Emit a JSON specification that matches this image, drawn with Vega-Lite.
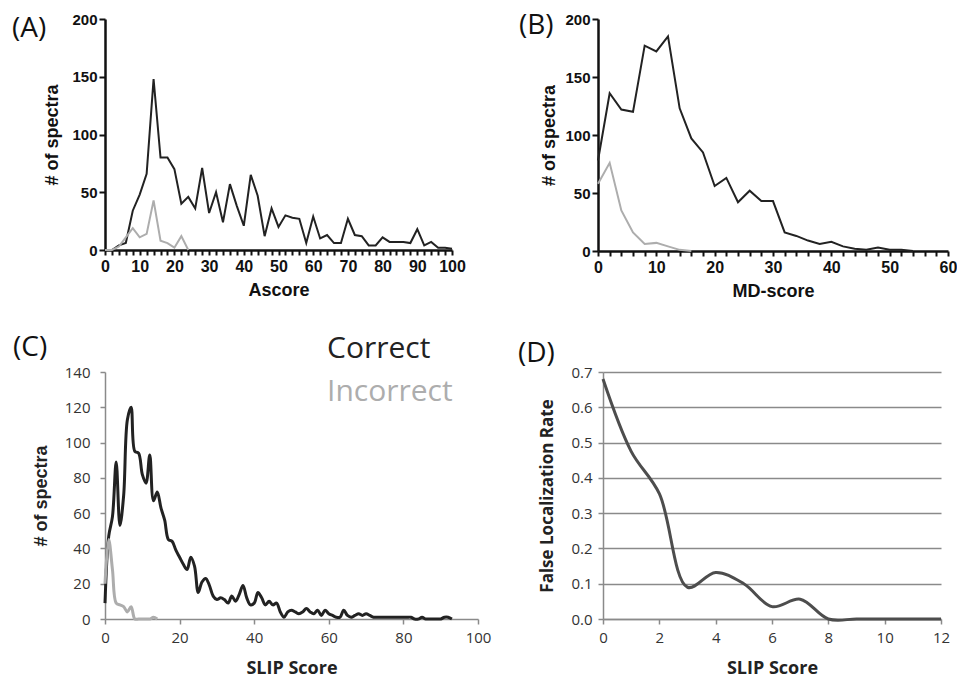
{
  "$schema": "https://vega.github.io/schema/vega-lite/v6.json",
  "padding": {"left": 12, "top": 12, "right": 0, "bottom": 0},
  "background": "white",
  "config": {"view": {"stroke": null}, "axis": {"labelFlush": false}},
  "datasets": {
    "ascore": [
      {"score":0,"count":0,"series":"Correct"},{"score":2,"count":0,"series":"Correct"},{"score":4,"count":4,"series":"Correct"},{"score":6,"count":6,"series":"Correct"},{"score":8,"count":34,"series":"Correct"},{"score":10,"count":48,"series":"Correct"},{"score":12,"count":66,"series":"Correct"},{"score":14,"count":148,"series":"Correct"},{"score":16,"count":80,"series":"Correct"},{"score":18,"count":80,"series":"Correct"},{"score":20,"count":70,"series":"Correct"},{"score":22,"count":40,"series":"Correct"},{"score":24,"count":46,"series":"Correct"},{"score":26,"count":36,"series":"Correct"},{"score":28,"count":71,"series":"Correct"},{"score":30,"count":32,"series":"Correct"},{"score":32,"count":50,"series":"Correct"},{"score":34,"count":24,"series":"Correct"},{"score":36,"count":57,"series":"Correct"},{"score":38,"count":38,"series":"Correct"},{"score":40,"count":21,"series":"Correct"},{"score":42,"count":65,"series":"Correct"},{"score":44,"count":47,"series":"Correct"},{"score":46,"count":12,"series":"Correct"},{"score":48,"count":36,"series":"Correct"},{"score":50,"count":20,"series":"Correct"},{"score":52,"count":30,"series":"Correct"},{"score":54,"count":28,"series":"Correct"},{"score":56,"count":27,"series":"Correct"},{"score":58,"count":6,"series":"Correct"},{"score":60,"count":29,"series":"Correct"},{"score":62,"count":10,"series":"Correct"},{"score":64,"count":13,"series":"Correct"},{"score":66,"count":6,"series":"Correct"},{"score":68,"count":6,"series":"Correct"},{"score":70,"count":27,"series":"Correct"},{"score":72,"count":13,"series":"Correct"},{"score":74,"count":12,"series":"Correct"},{"score":76,"count":4,"series":"Correct"},{"score":78,"count":4,"series":"Correct"},{"score":80,"count":11,"series":"Correct"},{"score":82,"count":7,"series":"Correct"},{"score":84,"count":7,"series":"Correct"},{"score":86,"count":7,"series":"Correct"},{"score":88,"count":6,"series":"Correct"},{"score":90,"count":18,"series":"Correct"},{"score":92,"count":4,"series":"Correct"},{"score":94,"count":7,"series":"Correct"},{"score":96,"count":2,"series":"Correct"},{"score":98,"count":2,"series":"Correct"},{"score":100,"count":1,"series":"Correct"},
      {"score":0,"count":0,"series":"Incorrect"},{"score":2,"count":0,"series":"Incorrect"},{"score":4,"count":3,"series":"Incorrect"},{"score":6,"count":11,"series":"Incorrect"},{"score":8,"count":19,"series":"Incorrect"},{"score":10,"count":11,"series":"Incorrect"},{"score":12,"count":14,"series":"Incorrect"},{"score":14,"count":43,"series":"Incorrect"},{"score":16,"count":8,"series":"Incorrect"},{"score":18,"count":6,"series":"Incorrect"},{"score":20,"count":2,"series":"Incorrect"},{"score":22,"count":12,"series":"Incorrect"},{"score":24,"count":0,"series":"Incorrect"}
    ],
    "mdscore": [
      {"score":0,"count":78,"series":"Correct"},{"score":2,"count":136,"series":"Correct"},{"score":4,"count":122,"series":"Correct"},{"score":6,"count":120,"series":"Correct"},{"score":8,"count":177,"series":"Correct"},{"score":10,"count":172,"series":"Correct"},{"score":12,"count":185,"series":"Correct"},{"score":14,"count":123,"series":"Correct"},{"score":16,"count":97,"series":"Correct"},{"score":18,"count":85,"series":"Correct"},{"score":20,"count":56,"series":"Correct"},{"score":22,"count":63,"series":"Correct"},{"score":24,"count":42,"series":"Correct"},{"score":26,"count":52,"series":"Correct"},{"score":28,"count":43,"series":"Correct"},{"score":30,"count":43,"series":"Correct"},{"score":32,"count":16,"series":"Correct"},{"score":34,"count":13,"series":"Correct"},{"score":36,"count":9,"series":"Correct"},{"score":38,"count":6,"series":"Correct"},{"score":40,"count":8,"series":"Correct"},{"score":42,"count":4,"series":"Correct"},{"score":44,"count":2,"series":"Correct"},{"score":46,"count":1,"series":"Correct"},{"score":48,"count":3,"series":"Correct"},{"score":50,"count":1,"series":"Correct"},{"score":52,"count":1,"series":"Correct"},{"score":54,"count":0,"series":"Correct"},
      {"score":0,"count":58,"series":"Incorrect"},{"score":2,"count":76,"series":"Incorrect"},{"score":4,"count":35,"series":"Incorrect"},{"score":6,"count":16,"series":"Incorrect"},{"score":8,"count":6,"series":"Incorrect"},{"score":10,"count":7,"series":"Incorrect"},{"score":12,"count":4,"series":"Incorrect"},{"score":14,"count":1,"series":"Incorrect"},{"score":16,"count":0,"series":"Incorrect"}
    ],
    "slip": [
      {"score":0,"count":9,"series":"Correct"},{"score":1,"count":47,"series":"Correct"},{"score":2,"count":58,"series":"Correct"},{"score":3,"count":89,"series":"Correct"},{"score":4,"count":53,"series":"Correct"},{"score":5,"count":70,"series":"Correct"},{"score":6,"count":113,"series":"Correct"},{"score":7,"count":120,"series":"Correct"},{"score":8,"count":95,"series":"Correct"},{"score":9,"count":94,"series":"Correct"},{"score":10,"count":82,"series":"Correct"},{"score":11,"count":77,"series":"Correct"},{"score":12,"count":93,"series":"Correct"},{"score":13,"count":67,"series":"Correct"},{"score":14,"count":72,"series":"Correct"},{"score":15,"count":63,"series":"Correct"},{"score":16,"count":56,"series":"Correct"},{"score":17,"count":45,"series":"Correct"},{"score":18,"count":44,"series":"Correct"},{"score":19,"count":39,"series":"Correct"},{"score":20,"count":35,"series":"Correct"},{"score":21,"count":31,"series":"Correct"},{"score":22,"count":28,"series":"Correct"},{"score":23,"count":35,"series":"Correct"},{"score":24,"count":30,"series":"Correct"},{"score":25,"count":15,"series":"Correct"},{"score":26,"count":21,"series":"Correct"},{"score":27,"count":23,"series":"Correct"},{"score":28,"count":19,"series":"Correct"},{"score":29,"count":13,"series":"Correct"},{"score":30,"count":11,"series":"Correct"},{"score":31,"count":12,"series":"Correct"},{"score":32,"count":11,"series":"Correct"},{"score":33,"count":9,"series":"Correct"},{"score":34,"count":13,"series":"Correct"},{"score":35,"count":10,"series":"Correct"},{"score":36,"count":14,"series":"Correct"},{"score":37,"count":19,"series":"Correct"},{"score":38,"count":12,"series":"Correct"},{"score":39,"count":8,"series":"Correct"},{"score":40,"count":9,"series":"Correct"},{"score":41,"count":15,"series":"Correct"},{"score":42,"count":12,"series":"Correct"},{"score":43,"count":8,"series":"Correct"},{"score":44,"count":10,"series":"Correct"},{"score":45,"count":8,"series":"Correct"},{"score":46,"count":9,"series":"Correct"},{"score":47,"count":4,"series":"Correct"},{"score":48,"count":1,"series":"Correct"},{"score":49,"count":4,"series":"Correct"},{"score":50,"count":5,"series":"Correct"},{"score":51,"count":4,"series":"Correct"},{"score":52,"count":3,"series":"Correct"},{"score":53,"count":4,"series":"Correct"},{"score":54,"count":6,"series":"Correct"},{"score":55,"count":4,"series":"Correct"},{"score":56,"count":3,"series":"Correct"},{"score":57,"count":5,"series":"Correct"},{"score":58,"count":2,"series":"Correct"},{"score":59,"count":5,"series":"Correct"},{"score":60,"count":3,"series":"Correct"},{"score":61,"count":2,"series":"Correct"},{"score":62,"count":1,"series":"Correct"},{"score":63,"count":1,"series":"Correct"},{"score":64,"count":5,"series":"Correct"},{"score":65,"count":2,"series":"Correct"},{"score":66,"count":1,"series":"Correct"},{"score":67,"count":2,"series":"Correct"},{"score":68,"count":3,"series":"Correct"},{"score":69,"count":2,"series":"Correct"},{"score":70,"count":3,"series":"Correct"},{"score":71,"count":2,"series":"Correct"},{"score":72,"count":1,"series":"Correct"},{"score":73,"count":1,"series":"Correct"},{"score":74,"count":1,"series":"Correct"},{"score":75,"count":1,"series":"Correct"},{"score":76,"count":1,"series":"Correct"},{"score":77,"count":1,"series":"Correct"},{"score":78,"count":1,"series":"Correct"},{"score":79,"count":1,"series":"Correct"},{"score":80,"count":1,"series":"Correct"},{"score":81,"count":1,"series":"Correct"},{"score":82,"count":1,"series":"Correct"},{"score":83,"count":0,"series":"Correct"},{"score":84,"count":0,"series":"Correct"},{"score":85,"count":1,"series":"Correct"},{"score":86,"count":0,"series":"Correct"},{"score":87,"count":0,"series":"Correct"},{"score":88,"count":0,"series":"Correct"},{"score":89,"count":0,"series":"Correct"},{"score":90,"count":0,"series":"Correct"},{"score":91,"count":1,"series":"Correct"},{"score":92,"count":1,"series":"Correct"},{"score":93,"count":0,"series":"Correct"},
      {"score":0,"count":20,"series":"Incorrect"},{"score":1,"count":45,"series":"Incorrect"},{"score":2,"count":28,"series":"Incorrect"},{"score":3,"count":9,"series":"Incorrect"},{"score":4,"count":8,"series":"Incorrect"},{"score":5,"count":7,"series":"Incorrect"},{"score":6,"count":4,"series":"Incorrect"},{"score":7,"count":7,"series":"Incorrect"},{"score":8,"count":0,"series":"Incorrect"},{"score":9,"count":0,"series":"Incorrect"},{"score":10,"count":0,"series":"Incorrect"},{"score":11,"count":0,"series":"Incorrect"},{"score":12,"count":0,"series":"Incorrect"},{"score":13,"count":1,"series":"Incorrect"},{"score":14,"count":0,"series":"Incorrect"}
    ],
    "flr": [
      {"score":0,"rate":0.68},{"score":1,"rate":0.475},{"score":2,"rate":0.355},{"score":3,"rate":0.09},{"score":4,"rate":0.132},{"score":5,"rate":0.1},{"score":6,"rate":0.035},{"score":7,"rate":0.056},{"score":8,"rate":0.0},{"score":9,"rate":0.0},{"score":10,"rate":0.0},{"score":11,"rate":0.0},{"score":12,"rate":0.0}
    ]
  },
  "vconcat": [
    {
      "hconcat": [
        {
          "width": 347, "height": 231,
          "title": {"text": "(A)", "anchor": "start", "frame": "group", "dx": -93, "dy": 35, "font": "Open Sans", "fontSize": 28, "fontWeight": "normal", "color": "#111"},
          "data": {"name": "ascore"},
          "mark": {"type": "line", "strokeWidth": 2, "clip": false},
          "encoding": {
            "x": {"field": "score", "type": "quantitative", "scale": {"domain": [0, 100], "nice": false},
              "axis": {"title": "Ascore", "values": [0,2,4,6,8,10,12,14,16,18,20,22,24,26,28,30,32,34,36,38,40,42,44,46,48,50,52,54,56,58,60,62,64,66,68,70,72,74,76,78,80,82,84,86,88,90,92,94,96,98,100],
                "labelExpr": "datum.value % 10 === 0 ? datum.label : ''", "labelOverlap": false, "grid": false,
                "domainColor": "#111", "domainWidth": 2.5, "tickColor": "#111", "tickWidth": 2, "tickSize": 5,
                "labelFont": "Liberation Sans", "labelFontWeight": "bold", "labelFontSize": 16, "labelColor": "#111", "labelPadding": 3,
                "titleFont": "Liberation Sans", "titleFontWeight": "bold", "titleFontSize": 18, "titleColor": "#111", "titlePadding": 7}},
            "y": {"field": "count", "type": "quantitative", "scale": {"domain": [0, 200], "nice": false},
              "axis": {"title": "# of spectra", "values": [0,50,100,150,200], "grid": false,
                "domainColor": "#111", "domainWidth": 2.5, "tickColor": "#111", "tickWidth": 2, "tickSize": 6,
                "labelFont": "Liberation Sans", "labelFontWeight": "bold", "labelFontSize": 15, "labelColor": "#111", "labelPadding": 2,
                "titleFont": "Liberation Sans", "titleFontWeight": "bold", "titleFontSize": 18, "titleColor": "#111", "titlePadding": 10}},
            "color": {"field": "series", "type": "nominal", "scale": {"domain": ["Correct", "Incorrect"], "range": ["#222222", "#adadad"]},
              "legend": {"title": null, "orient": "none", "legendX": 192, "legendY": 315, "labelFont": "Open Sans", "labelFontSize": 30, "symbolSize": 0, "symbolStrokeWidth": 0, "symbolOpacity": 0, "labelOffset": 0, "rowPadding": 13, "labelLimit": 400,
                "encode": {"labels": {"update": {"fill": {"scale": "color", "field": "value"}}}}}},
            "order": {"field": "series", "sort": "descending"}
          }
        },
        {
          "width": 350, "height": 232,
          "title": {"text": "(B)", "anchor": "start", "frame": "group", "dx": -79, "dy": 32, "font": "Open Sans", "fontSize": 28, "fontWeight": "normal", "color": "#111"},
          "data": {"name": "mdscore"},
          "mark": {"type": "line", "strokeWidth": 2, "clip": false},
          "encoding": {
            "x": {"field": "score", "type": "quantitative", "scale": {"domain": [0, 60], "nice": false},
              "axis": {"title": "MD-score", "values": [0,2,4,6,8,10,12,14,16,18,20,22,24,26,28,30,32,34,36,38,40,42,44,46,48,50,52,54,56,58,60],
                "labelExpr": "datum.value % 10 === 0 ? datum.label : ''", "labelOverlap": false, "grid": false,
                "domainColor": "#111", "domainWidth": 2.5, "tickColor": "#111", "tickWidth": 2, "tickSize": 5,
                "labelFont": "Liberation Sans", "labelFontWeight": "bold", "labelFontSize": 16, "labelColor": "#111", "labelPadding": 3,
                "titleFont": "Liberation Sans", "titleFontWeight": "bold", "titleFontSize": 18, "titleColor": "#111", "titlePadding": 7}},
            "y": {"field": "count", "type": "quantitative", "scale": {"domain": [0, 200], "nice": false},
              "axis": {"title": "# of spectra", "values": [0,50,100,150,200], "grid": false,
                "domainColor": "#111", "domainWidth": 2.5, "tickColor": "#111", "tickWidth": 2, "tickSize": 6,
                "labelFont": "Liberation Sans", "labelFontWeight": "bold", "labelFontSize": 15, "labelColor": "#111", "labelPadding": 2,
                "titleFont": "Liberation Sans", "titleFontWeight": "bold", "titleFontSize": 18, "titleColor": "#111", "titlePadding": 6}},
            "color": {"field": "series", "type": "nominal", "scale": {"domain": ["Correct", "Incorrect"], "range": ["#222222", "#adadad"]},
              "legend": {"title": null, "orient": "none", "legendX": 192, "legendY": 315, "labelFont": "Open Sans", "labelFontSize": 30, "symbolSize": 0, "symbolStrokeWidth": 0, "symbolOpacity": 0, "labelOffset": 0, "rowPadding": 13, "labelLimit": 400,
                "encode": {"labels": {"update": {"fill": {"scale": "color", "field": "value"}}}}}},
            "order": {"field": "series", "sort": "descending"}
          }
        }
      ],
      "spacing": 53
    },
    {
      "hconcat": [
        {
          "width": 373, "height": 247,
          "title": {"text": "(C)", "anchor": "start", "frame": "group", "dx": -92, "dy": 1, "font": "Open Sans", "fontSize": 28, "fontWeight": "normal", "color": "#111"},
          "data": {"name": "slip"},
          "mark": {"type": "line", "strokeWidth": 3, "interpolate": "catmull-rom", "clip": false},
          "encoding": {
            "x": {"field": "score", "type": "quantitative", "scale": {"domain": [0, 100], "nice": false},
              "axis": {"title": "SLIP Score", "values": [0,20,40,60,80,100], "grid": false,
                "domainColor": "#8a8a8a", "domainWidth": 1.5, "tickColor": "#8a8a8a", "tickWidth": 1.5, "tickSize": 5,
                "labelFont": "Open Sans", "labelFontSize": 15, "labelColor": "#333", "labelPadding": 6,
                "titleFont": "Open Sans", "titleFontWeight": "bold", "titleFontSize": 18, "titleColor": "#222", "titlePadding": 14}},
            "y": {"field": "count", "type": "quantitative", "scale": {"domain": [0, 140], "nice": false},
              "axis": {"title": "# of spectra", "values": [0,20,40,60,80,100,120,140], "grid": false,
                "domainColor": "#8a8a8a", "domainWidth": 1.5, "tickColor": "#8a8a8a", "tickWidth": 1.5, "tickSize": 5,
                "labelFont": "Open Sans", "labelFontSize": 15, "labelColor": "#333", "labelPadding": 10,
                "titleFont": "Liberation Sans", "titleFontWeight": "bold", "titleFontSize": 18, "titleColor": "#222", "titlePadding": 14}},
            "color": {"field": "series", "type": "nominal", "scale": {"domain": ["Correct", "Incorrect"], "range": ["#222222", "#adadad"]},
              "legend": {"title": null, "orient": "none", "legendX": 192, "legendY": 315, "labelFont": "Open Sans", "labelFontSize": 30, "symbolSize": 0, "symbolStrokeWidth": 0, "symbolOpacity": 0, "labelOffset": 0, "rowPadding": 13, "labelLimit": 400,
                "encode": {"labels": {"update": {"fill": {"scale": "color", "field": "value"}}}}}},
            "order": {"field": "series", "sort": "descending"}
          }
        },
        {
          "width": 338, "height": 247,
          "title": {"text": "(D)", "anchor": "start", "frame": "group", "dx": -85, "dy": 7, "font": "Open Sans", "fontSize": 28, "fontWeight": "normal", "color": "#111"},
          "data": {"name": "flr"},
          "mark": {"type": "line", "strokeWidth": 3, "interpolate": "catmull-rom", "color": "#4d4d4d", "clip": false},
          "encoding": {
            "x": {"field": "score", "type": "quantitative", "scale": {"domain": [0, 12], "nice": false},
              "axis": {"title": "SLIP Score", "values": [0,2,4,6,8,10,12], "grid": false,
                "domainColor": "#8a8a8a", "domainWidth": 1.5, "tickColor": "#8a8a8a", "tickWidth": 1.5, "tickSize": 5,
                "labelFont": "Open Sans", "labelFontSize": 15, "labelColor": "#333", "labelPadding": 6,
                "titleFont": "Open Sans", "titleFontWeight": "bold", "titleFontSize": 18, "titleColor": "#222", "titlePadding": 14}},
            "y": {"field": "rate", "type": "quantitative", "scale": {"domain": [0, 0.7], "nice": false},
              "axis": {"title": "False Localization Rate", "values": [0,0.1,0.2,0.3,0.4,0.5,0.6,0.7], "format": ".1f", "grid": true, "gridColor": "#8a8a8a", "gridWidth": 1.5,
                "domainColor": "#8a8a8a", "domainWidth": 1.5, "tickColor": "#8a8a8a", "tickWidth": 1.5, "tickSize": 5,
                "labelFont": "Open Sans", "labelFontSize": 15, "labelColor": "#333", "labelPadding": 6,
                "titleFont": "Open Sans", "titleFontWeight": "bold", "titleFontSize": 17, "titleColor": "#222", "titlePadding": 14}}
          }
        }
      ],
      "spacing": 27
    }
  ],
  "spacing": 34
}
